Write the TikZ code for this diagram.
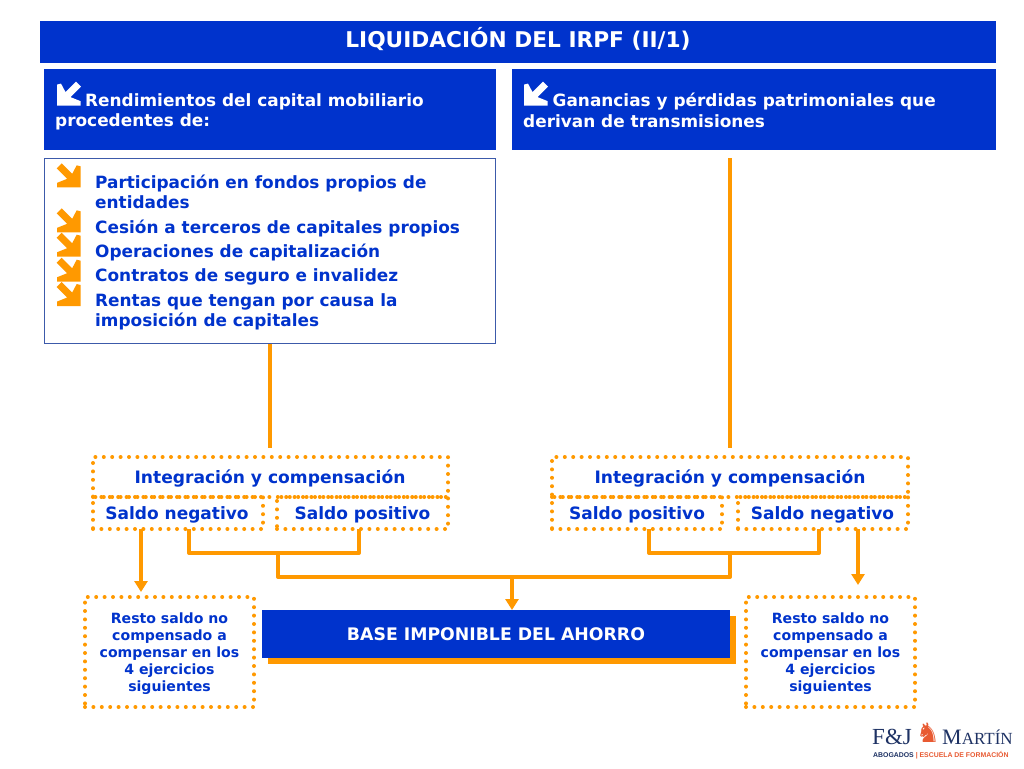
\documentclass[tikz,border=0pt]{standalone}
\usepackage{fontspec}
\setmainfont{DejaVu Sans}
\newfontfamily\logoserif{Liberation Serif}
\newfontfamily\logosans{Liberation Sans}
\usetikzlibrary{arrows.meta,calc}
\definecolor{fjblue}{RGB}{0,51,204}
\definecolor{fjorange}{RGB}{255,153,0}
\definecolor{fjframe}{RGB}{60,90,170}
\definecolor{fjnavy}{RGB}{30,50,100}
\definecolor{fjred}{RGB}{232,90,50}
\newcommand{\glyphpath}{(0,0) -- (0,21) -- (4,22) -- (8.5,13.5) -- (19,24) -- (24,19) -- (13.5,8.5) -- (23.5,4.5) -- (23.5,0) -- cycle}
\tikzset{
  x=1pt,y=-1pt,
  blueb/.style={draw=none,fill=fjblue,text=white,anchor=north west,inner sep=0pt,outer sep=0pt},
  dotbox/.style={draw=fjorange,line width=4pt,line cap=round,dash pattern=on 0pt off 8.4pt,anchor=north west,inner sep=0pt,outer sep=0pt},
  conn/.style={draw=fjorange,line width=4pt,line join=round},
  arr/.style={conn,-{Triangle[width=13pt,length=11pt]}},
  itemtxt/.style={anchor=west,inner sep=0pt,text=fjblue,align=left,font=\fontsize{16.9}{20.5}\selectfont\bfseries},
  headtxt/.style={anchor=north west,inner sep=0pt,text=white,align=left,font=\fontsize{16.9}{20.5}\selectfont\bfseries},
  boxtxt/.style={inner sep=0pt,text=fjblue,font=\fontsize{17}{20}\selectfont\bfseries},
  inttxt/.style={inner sep=0pt,text=fjblue,font=\fontsize{17.1}{20}\selectfont\bfseries},
  restotxt/.style={inner sep=0pt,text=fjblue,align=center,font=\fontsize{14.1}{17}\selectfont\bfseries},
}
\newcommand{\whitearrow}[2]{\fill[white,shift={(#1,#2)},y=1pt] \glyphpath;}
\newcommand{\orangearrow}[2]{\fill[fjorange,shift={(#1,#2)},x=-1pt,y=1pt] \glyphpath;}
\begin{document}
\begin{tikzpicture}
\useasboundingbox (0,0) rectangle (1024,768);
\fill[white] (0,0) rectangle (1024,768);

\node[blueb,minimum width=956pt,minimum height=42pt] (title) at (40,21) {};
\node[font=\fontsize{21.7}{24}\selectfont\bfseries,text=white,inner sep=0pt] (titletext) at (518,39.5) {LIQUIDACIÓN DEL IRPF (II/1)};

\node[blueb,minimum width=452pt,minimum height=81pt] (headL) at (44,69) {};
\node[blueb,minimum width=484pt,minimum height=81pt] (headR) at (512,69) {};
\whitearrow{57}{105.6}
\whitearrow{524}{105.6}
\node[headtxt] (headLt) at (55,93.3) {\hspace{30pt}Rendimientos del capital mobiliario\\procedentes de:};
\node[headtxt] (headRt) at (523,93) {\hspace{29.5pt}Ganancias y pérdidas patrimoniales que\\derivan de transmisiones};

\node[draw=fjframe,line width=1pt,fill=white,anchor=north west,inner sep=0pt,outer sep=0pt,minimum width=451.5pt,minimum height=185.5pt] (listbox) at (44,158) {};
\node[itemtxt] (i1) at (95,192.1) {Participación en fondos propios de\\entidades};
\node[itemtxt] (i2) at (95,228.2) {Cesión a terceros de capitales propios};
\node[itemtxt] (i3) at (95,252.3) {Operaciones de capitalización};
\node[itemtxt] (i4) at (95,277.2) {Contratos de seguro e invalidez};
\node[itemtxt] (i5) at (95,312) {Rentas que tengan por causa la\\imposición de capitales};
\orangearrow{80.7}{187.3}
\orangearrow{80.7}{232.3}
\orangearrow{80.7}{256.7}
\orangearrow{80.7}{281.7}
\orangearrow{80.7}{306}

\node[dotbox,minimum width=355pt,minimum height=40pt] (intL) at (93,457) {};
\node[inttxt] (intLt) at (270,478.5) {Integración y compensación};
\node[dotbox,minimum width=170pt,minimum height=32pt] (negL) at (93,497) {};
\node[boxtxt] (negLt) at (177,514.5) {Saldo negativo};
\node[dotbox,minimum width=171pt,minimum height=32pt] (posL) at (277,497) {};
\node[boxtxt] (posLt) at (362.5,514.5) {Saldo positivo};

\node[dotbox,minimum width=356pt,minimum height=40pt] (intR) at (552,457) {};
\node[inttxt] (intRt) at (730,478.5) {Integración y compensación};
\node[dotbox,minimum width=170pt,minimum height=32pt] (posR) at (552,497) {};
\node[boxtxt] (posRt) at (637,514.5) {Saldo positivo};
\node[dotbox,minimum width=170pt,minimum height=32pt] (negR) at (738,497) {};
\node[boxtxt] (negRt) at (822.5,514.5) {Saldo negativo};

\node[dotbox,minimum width=169pt,minimum height=110pt] (restoL) at (85,597) {};
\node[restotxt] (restoLt) at (169.5,653.5) {Resto saldo no\\compensado a\\compensar en los\\4 ejercicios\\siguientes};
\node[dotbox,minimum width=169pt,minimum height=110pt] (restoR) at (746,597) {};
\node[restotxt] (restoRt) at (830.5,653.5) {Resto saldo no\\compensado a\\compensar en los\\4 ejercicios\\siguientes};

\fill[fjorange] (268,616) rectangle (736,664);
\node[blueb,minimum width=468pt,minimum height=48pt] (base) at (262,610) {};
\node[font=\fontsize{17.3}{20}\selectfont\bfseries,text=white,inner sep=0pt] (baset) at (496,634.5) {BASE IMPONIBLE DEL AHORRO};

% connectors
\coordinate (rtop) at (730,158);
\coordinate (jL1) at (189,529);
\coordinate (jL2) at (359,529);
\coordinate (jLb) at (278,553);
\coordinate (jR1) at (649,529);
\coordinate (jR2) at (819,529);
\coordinate (jRb) at (730,553);
\coordinate (merge) at (512,577);
\coordinate (aL) at (141,529);
\coordinate (aR) at (858,529);
\draw[conn,shorten >=9pt] (listbox.south) -- (listbox.south |- intL.north);
\draw[conn,shorten >=9pt] (rtop) -- (intRt.center |- intR.north);
\draw[conn] (jL1) -- (jL1 |- jLb) -- (jL2 |- jLb) -- (jL2);
\draw[conn] (jR1) -- (jR1 |- jRb) -- (jR2 |- jRb) -- (jR2);
\draw[conn] (jLb) -- (jLb |- merge) -- (jRb |- merge) -- (jRb);
\draw[arr] (merge) -- (merge |- base.north);
\draw[arr,shorten >=5pt] (aL) -- (aL |- restoL.north);
\draw[arr,shorten >=12pt] (aR) -- (aR |- restoR.north);

% logo
\node[font=\logoserif\fontsize{23}{23}\selectfont,text=fjnavy,anchor=west,inner sep=0pt] (lg1) at (872,737) {F\&J};
\node[font=\fontsize{27}{27}\selectfont,text=fjred,inner sep=0pt] (lg2) at (928,733) {♞};
\node[font=\logoserif\fontsize{22}{22}\selectfont,text=fjnavy,anchor=west,inner sep=0pt] (lg3) at (942,737) {M\fontsize{17}{17}\selectfont ARTÍN};
\node[font=\logosans\fontsize{6.9}{7}\selectfont\bfseries,anchor=west,inner sep=0pt] (lg4) at (873,755) {\textcolor{fjnavy}{ABOGADOS} \textcolor{fjred}{| ESCUELA DE FORMACIÓN}};
\end{tikzpicture}
\end{document}
